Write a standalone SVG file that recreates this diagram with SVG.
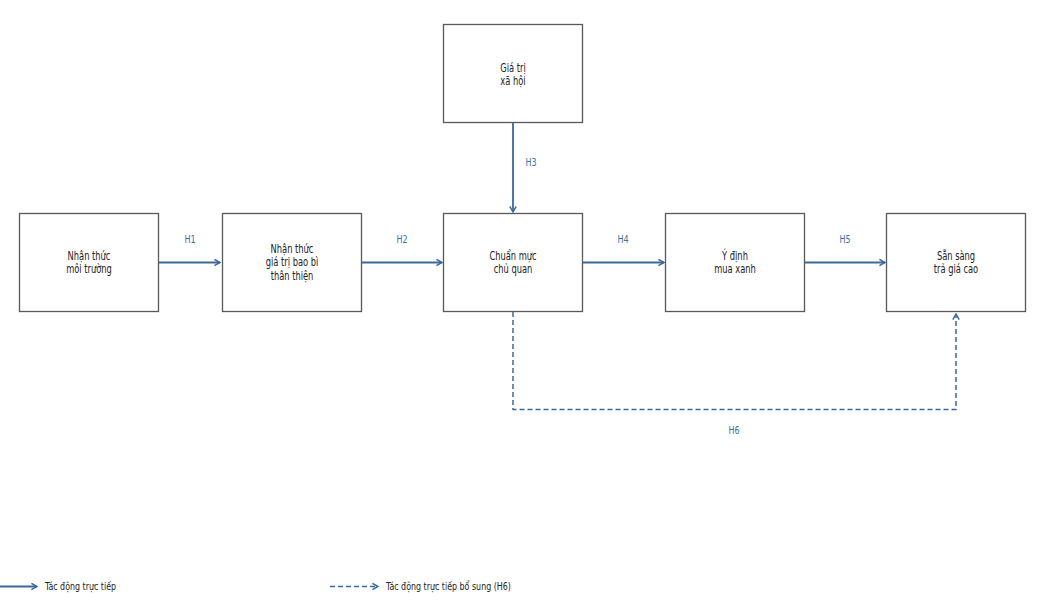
<svg xmlns="http://www.w3.org/2000/svg" width="1041" height="601" viewBox="0 0 1041 601">
<style>
.box{fill:#ffffff;stroke:#595959;stroke-width:1.3}
.t{font-family:"DejaVu Sans Condensed","DejaVu Sans",sans-serif;font-stretch:condensed;font-size:12px;fill:#222222;text-anchor:middle}
.lbl{font-family:"DejaVu Sans Condensed","DejaVu Sans",sans-serif;font-stretch:condensed;font-size:10.5px;fill:#3d6fa3;text-anchor:middle}
.leg{font-family:"DejaVu Sans Condensed","DejaVu Sans",sans-serif;font-stretch:condensed;font-size:10.5px;fill:#222222}
.c{fill:none;stroke:#3a6a9c;stroke-width:1.8}
.d{fill:none;stroke:#3a6a9c;stroke-width:1.5;stroke-dasharray:5,3}
</style>
<defs>
<marker id="ah" viewBox="0 0 10 10" refX="9" refY="5" markerWidth="8" markerHeight="8" markerUnits="userSpaceOnUse" orient="auto">
<path d="M2,1 L9,5 L2,9" fill="none" stroke="#3a6a9c" stroke-width="1.8"/>
</marker>
</defs>
<rect width="1041" height="601" fill="#ffffff"/>
<g id="n1"><rect class="box" x="19.5" y="213.5" width="139" height="98"/><g transform="translate(89,0) scale(0.77,1)"><text class="t" x="0" y="260">Nhận thức</text><text class="t" x="0" y="273.5">môi trường</text></g></g>
<g id="n2"><rect class="box" x="222.5" y="213.5" width="139" height="98"/><g transform="translate(292,0) scale(0.77,1)"><text class="t" x="0" y="253">Nhận thức</text><text class="t" x="0" y="266.5">giá trị bao bì</text><text class="t" x="0" y="280">thân thiện</text></g></g>
<g id="n3"><rect class="box" x="443.5" y="213.5" width="139" height="98"/><g transform="translate(513,0) scale(0.77,1)"><text class="t" x="0" y="260">Chuẩn mực</text><text class="t" x="0" y="273.5">chủ quan</text></g></g>
<g id="n4"><rect class="box" x="665.5" y="213.5" width="139" height="98"/><g transform="translate(735,0) scale(0.77,1)"><text class="t" x="0" y="260">Ý định</text><text class="t" x="0" y="273.5">mua xanh</text></g></g>
<g id="n5"><rect class="box" x="886.5" y="213.5" width="139" height="98"/><g transform="translate(956,0) scale(0.77,1)"><text class="t" x="0" y="260">Sẵn sàng</text><text class="t" x="0" y="273.5">trả giá cao</text></g></g>
<g id="n6"><rect class="box" x="443.5" y="24.5" width="139" height="98"/><g transform="translate(513,0) scale(0.77,1)"><text class="t" x="0" y="72">Giá trị</text><text class="t" x="0" y="85.5">xã hội</text></g></g>
<g id="connectors">
<line class="c" x1="159" y1="262.5" x2="220" y2="262.5" marker-end="url(#ah)"/>
<line class="c" x1="362" y1="262.5" x2="442" y2="262.5" marker-end="url(#ah)"/>
<line class="c" x1="583" y1="262.5" x2="664" y2="262.5" marker-end="url(#ah)"/>
<line class="c" x1="805" y1="262.5" x2="885" y2="262.5" marker-end="url(#ah)"/>
<line class="c" x1="513" y1="123" x2="513" y2="212" marker-end="url(#ah)"/>
<polyline class="d" points="513,312 513,409.5 956,409.5 956,314" marker-end="url(#ah)"/>
<g transform="scale(0.85,1)">
<text class="lbl" x="223.5" y="243">H1</text>
<text class="lbl" x="472.9" y="243">H2</text>
<text class="lbl" x="624.7" y="166">H3</text>
<text class="lbl" x="732.9" y="243">H4</text>
<text class="lbl" x="994.1" y="243">H5</text>
<text class="lbl" x="863.5" y="434">H6</text>
</g>
</g>
<g id="legend">
<line class="c" x1="0" y1="586.5" x2="37" y2="586.5" marker-end="url(#ah)"/>
<text class="leg" transform="translate(45,590) scale(0.84,1)">Tác động trực tiếp</text>
<line class="d" x1="330" y1="586.5" x2="378" y2="586.5" marker-end="url(#ah)"/>
<text class="leg" transform="translate(386,590) scale(0.84,1)">Tác động trực tiếp bổ sung (H6)</text>
</g>
</svg>
